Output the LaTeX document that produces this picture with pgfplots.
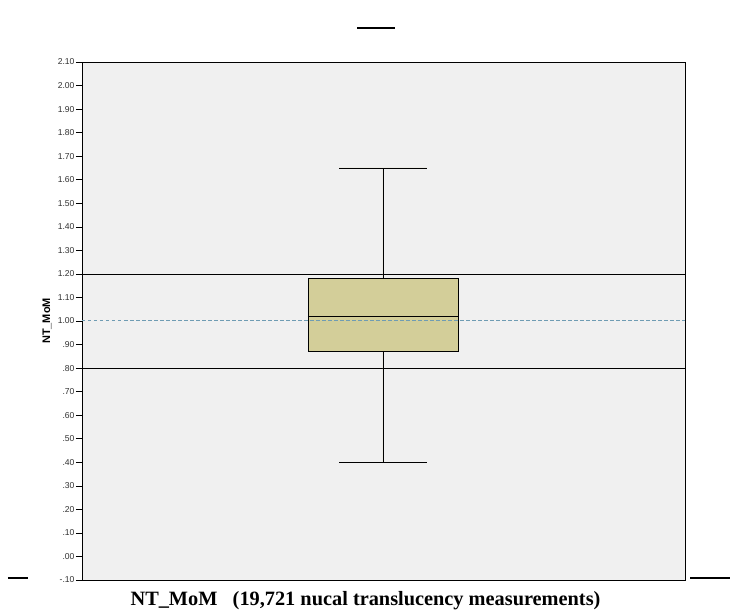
\documentclass[border=0pt]{standalone}
\usepackage{pgfplots}
\pgfplotsset{compat=1.18}
\usepgfplotslibrary{statistics}
\usepackage{fontspec}
\setmainfont{Liberation Serif}
\setsansfont{Liberation Sans}
\definecolor{bg}{HTML}{F0F0F0}
\definecolor{boxfill}{HTML}{D3CE99}
\definecolor{refblue}{HTML}{6F9CB3}
\definecolor{ticktxt}{HTML}{303030}
\begin{document}
\begin{tikzpicture}[x=1bp,y=1bp]
\path[use as bounding box] (-82,-34) rectangle (648,580);
\begin{axis}[
  at={(0,0)}, anchor=south west,
  scale only axis, width=603bp, height=518bp,
  xmin=0, xmax=2, ymin=-0.10, ymax=2.10,
  axis background/.style={fill=bg},
  axis line style={black, line width=0.8pt},
  xtick=\empty,
  ytick={-0.1,0,0.1,0.2,0.3,0.4,0.5,0.6,0.7,0.8,0.9,1.0,1.1,1.2,1.3,1.4,1.5,1.6,1.7,1.8,1.9,2.0,2.1},
  yticklabels={-.10,.00,.10,.20,.30,.40,.50,.60,.70,.80,.90,1.00,1.10,1.20,1.30,1.40,1.50,1.60,1.70,1.80,1.90,2.00,2.10},
  yticklabel style={font=\sffamily\fontsize{8.6}{9}\selectfont, text=ticktxt, xshift=2bp},
  ytick pos=left, tick align=outside, major tick length=6bp,
  tick style={black, line width=0.6pt},
  ylabel={\textbf{NT\_MoM}},
  ylabel style={font=\sffamily\fontsize{11}{12}\selectfont, at={(axis description cs:0,0.5)}, anchor=center, yshift=35bp},
  xlabel={\textbf{NT\_MoM\ \ \ (19,721 nucal translucency measurements)}},
  xlabel style={font=\fontsize{20.4}{22}\selectfont, anchor=north, yshift=-2bp, xshift=-18bp},
  clip=false,
]
\addplot[black, line width=0.8pt] coordinates {(0,1.2) (2,1.2)};
\addplot[black, line width=0.8pt] coordinates {(0,0.8) (2,0.8)};
\addplot+[black, line width=0.8pt, fill=boxfill, mark=none,
  boxplot/draw direction=y,
  boxplot prepared={draw position=0.998, box extend=0.4975, whisker extend=0.29,
    lower whisker=0.40, lower quartile=0.87, median=1.02, upper quartile=1.18, upper whisker=1.65}]
  coordinates {};
\addplot[refblue, line width=1pt, dash pattern=on 3.5bp off 2.5bp] coordinates {(0,1.0) (2,1.0)};
\end{axis}
\draw[black, line width=1.6pt] (275,552) -- (313,552);
\draw[black, line width=1.6pt] (-74,2) -- (-54,2);
\draw[black, line width=1.6pt] (608,2) -- (648,2);
\end{tikzpicture}
\end{document}
